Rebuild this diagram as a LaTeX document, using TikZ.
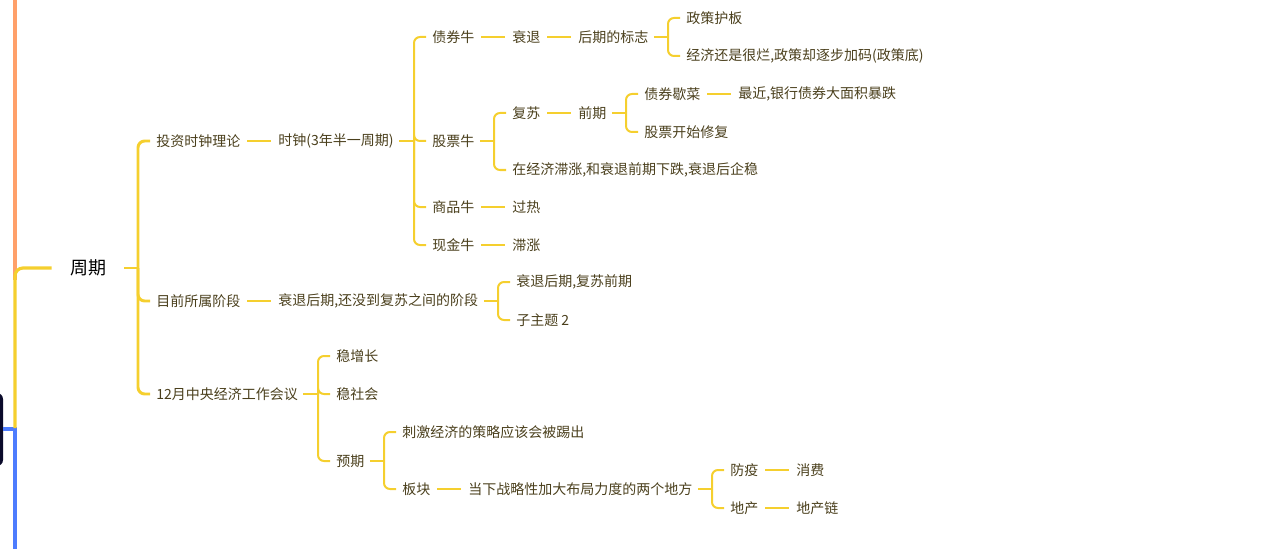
\documentclass[tikz,border=0pt]{standalone}
\usepackage{fontspec}
\newfontfamily\cjk{Noto Sans CJK SC}
\definecolor{yl}{HTML}{F5CF2E}
\definecolor{txt}{HTML}{4A3F1C}
\definecolor{org}{HTML}{FFA06A}
\definecolor{blu}{HTML}{4D7CFE}
\definecolor{dk}{HTML}{0B0B2B}
\newcommand\mmln[2]{\draw[conn] ([xshift=5pt]#1.east) -- ([xshift=-5pt]#2.west);}
\newcommand\mmstub[2]{\draw[conn] ([xshift=4pt]#1.east) -- (#1.east -| #2);}
\newcommand\mmbr[3]{\draw[conn,rounded corners=4.5pt] (#1.east -| #2) |- ([xshift=-4.5pt]#3.west);}
\begin{document}
\begin{tikzpicture}[x=0.75pt,y=-0.75pt,
  t/.style={anchor=west, inner sep=0pt, font=\cjk\fontsize{10.5}{12}\selectfont, text=txt},
  root/.style={inner xsep=13.5pt, inner ysep=0pt, font=\cjk\fontsize{13.5}{15}\selectfont, text=black},
  conn/.style={draw=yl, line width=1.5pt},
  thick conn/.style={draw=yl, line width=2.2pt}]
\useasboundingbox (0,0) rectangle (1266,549);
% left trunk
\fill[dk, rounded corners=4.5pt] (-12,393) rectangle (3,466);
\draw[org, line width=2.4pt] (15,-2) -- (15,280);
\draw[blu, line width=2.4pt] (3,429) -- (15,429) -- (15,551);
\node[root] (r) at (88,268) {周期};
\draw[yl, line width=2.4pt, rounded corners=6pt] (15,428) -- (15,268) -- (r.west);
% bracket x coordinates
\coordinate (bA) at (138,0);
\coordinate (bB) at (414,0);
\coordinate (bC) at (668,0);
\coordinate (bD) at (494,0);
\coordinate (bE) at (626,0);
\coordinate (bF) at (498,0);
\coordinate (bG) at (318,0);
\coordinate (bH) at (384,0);
\coordinate (bI) at (712,0);
% nodes
\node[t] (a) at (156,141) {投资时钟理论};
\node[t] (a1) at (278,141) {时钟(3年半一周期)};
\node[t] (z1) at (432,37) {债券牛};
\node[t] (z2) at (432,141) {股票牛};
\node[t] (z3) at (432,207) {商品牛};
\node[t] (z4) at (432,245) {现金牛};
\node[t] (s1) at (512,37) {衰退};
\node[t] (s2) at (578,37) {后期的标志};
\node[t] (s3) at (686,18) {政策护板};
\node[t] (s4) at (686,56) {经济还是很烂,政策却逐步加码(政策底)};
\node[t] (g1) at (512,113) {复苏};
\node[t] (g2) at (578,113) {前期};
\node[t] (g3) at (644,94) {债券歇菜};
\node[t] (g4) at (738,94) {最近,银行债券大面积暴跌};
\node[t] (g5) at (644,132) {股票开始修复};
\node[t] (g6) at (512,170) {在经济滞涨,和衰退前期下跌,衰退后企稳};
\node[t] (c1) at (512,207) {过热};
\node[t] (x1) at (512,245) {滞涨};
\node[t] (b) at (156,301) {目前所属阶段};
\node[t] (b1) at (278,301) {衰退后期,还没到复苏之间的阶段};
\node[t] (b2) at (516,282) {衰退后期,复苏前期};
\node[t] (b3) at (516,320) {子主题 2};
\node[t] (m) at (156,394) {12月中央经济工作会议};
\node[t] (m1) at (336,356) {稳增长};
\node[t] (m2) at (336,394) {稳社会};
\node[t] (m3) at (336,461) {预期};
\node[t] (m4) at (402,432) {刺激经济的策略应该会被踢出};
\node[t] (m5) at (402,489) {板块};
\node[t] (m6) at (468,489) {当下战略性加大布局力度的两个地方};
\node[t] (m7) at (730,470) {防疫};
\node[t] (m8) at (730,508) {地产};
\node[t] (m9) at (796,470) {消费};
\node[t] (m10) at (796,508) {地产链};
% root bracket
\draw[thick conn] (r.east) -- (r.east -| bA);
\foreach \c in {a,b,m}{\draw[thick conn,rounded corners=5pt] (r.east -| bA) |- ([xshift=-4.5pt]\c.west);}
% connectors
\mmln{a}{a1}
\mmstub{a1}{bB}
\mmbr{a1}{bB}{z1}\mmbr{a1}{bB}{z2}\mmbr{a1}{bB}{z3}\mmbr{a1}{bB}{z4}
\mmln{z1}{s1}
\mmln{s1}{s2}
\mmstub{s2}{bC}
\mmbr{s2}{bC}{s3}\mmbr{s2}{bC}{s4}
\mmstub{z2}{bD}
\mmbr{z2}{bD}{g1}\mmbr{z2}{bD}{g6}
\mmln{g1}{g2}
\mmstub{g2}{bE}
\mmbr{g2}{bE}{g3}\mmbr{g2}{bE}{g5}
\mmln{g3}{g4}
\mmln{z3}{c1}
\mmln{z4}{x1}
\mmln{b}{b1}
\mmstub{b1}{bF}
\mmbr{b1}{bF}{b2}\mmbr{b1}{bF}{b3}
\mmstub{m}{bG}
\mmbr{m}{bG}{m1}\mmbr{m}{bG}{m2}\mmbr{m}{bG}{m3}
\mmstub{m3}{bH}
\mmbr{m3}{bH}{m4}\mmbr{m3}{bH}{m5}
\mmln{m5}{m6}
\mmstub{m6}{bI}
\mmbr{m6}{bI}{m7}\mmbr{m6}{bI}{m8}
\mmln{m7}{m9}
\mmln{m8}{m10}
\end{tikzpicture}
\end{document}
